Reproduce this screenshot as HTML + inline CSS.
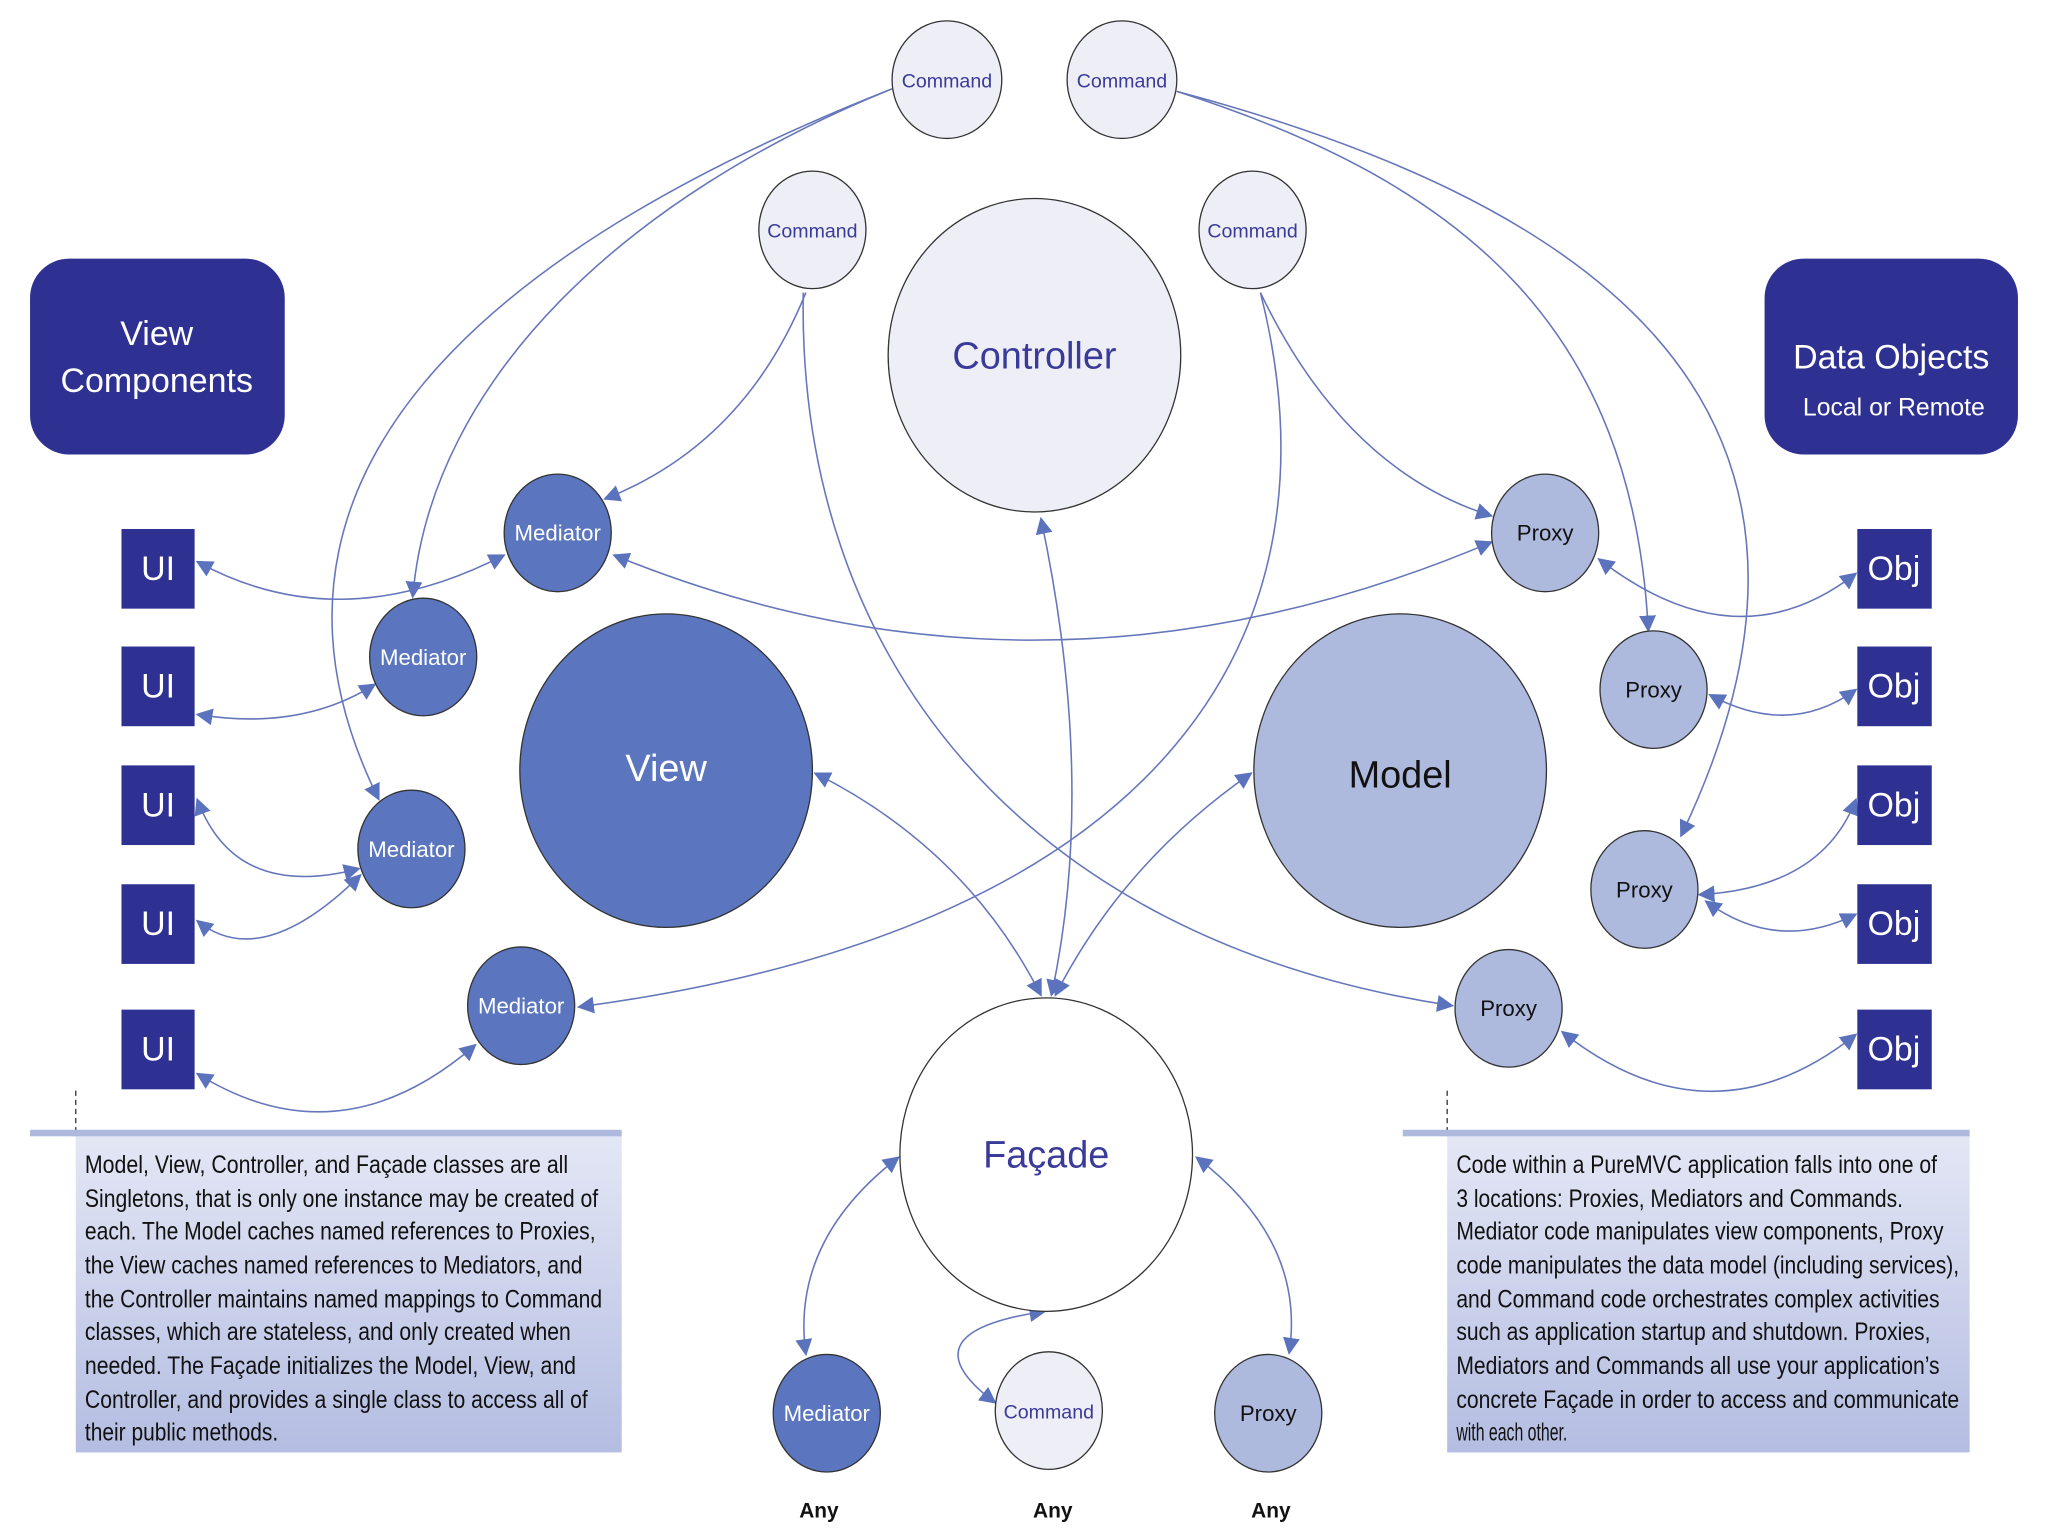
<!DOCTYPE html>
<html><head><meta charset="utf-8"><style>
html,body{margin:0;padding:0;background:#fff;}
svg{display:block;}
text{font-family:"Liberation Sans",sans-serif;}
.cmd{fill:#EEEEF6;stroke:#333;stroke-width:1;}
.med{fill:#5B76BF;stroke:#333;stroke-width:1;}
.prx{fill:#AEB9DE;stroke:#333;stroke-width:1;}
.box{fill:#2E3192;}
.e{fill:none;stroke:#6676BB;stroke-width:1.2;}
.ct{fill:#3A3A9A;font-size:15px;text-anchor:middle;}
.mt{fill:#fff;font-size:17px;text-anchor:middle;}
.pt{fill:#111;font-size:17px;text-anchor:middle;}
.bt{fill:#fff;font-size:26px;text-anchor:middle;}
.tx{fill:#111;font-size:19px;font-family:"Liberation Sans Narrow","Liberation Sans",sans-serif;}
.any{fill:#111;font-size:16px;font-weight:bold;text-anchor:middle;}
</style></head><body>
<svg width="2048" height="1536" viewBox="0 0 1568 1176" xmlns="http://www.w3.org/2000/svg">
<defs>
<marker id="a" viewBox="0 0 10 10" refX="9" refY="5" markerWidth="13" markerHeight="13" markerUnits="userSpaceOnUse" orient="auto-start-reverse"><path d="M0,0 L10,5 L0,10 z" fill="#5B72BD"/></marker>
<linearGradient id="g" x1="0" y1="0" x2="0" y2="1"><stop offset="0" stop-color="#E4E7F5"/><stop offset="1" stop-color="#B4BDE2"/></linearGradient>
</defs>

<!-- edges -->
<path class="e" d="M683,68 C450,160 150,330 290,612" marker-end="url(#a)"/>
<path class="e" d="M683,68 C480,150 330,290 316,457" marker-end="url(#a)"/>
<path class="e" d="M617,224 Q570,340 463,382" marker-end="url(#a)"/>
<path class="e" d="M615,224 C610,500 780,720 1112,770" marker-end="url(#a)"/>
<path class="e" d="M965,224 Q1030,360 1142,395" marker-end="url(#a)"/>
<path class="e" d="M965,224 C1030,480 900,710 443,771" marker-end="url(#a)"/>
<path class="e" d="M901,70 C1120,140 1250,250 1262,483" marker-end="url(#a)"/>
<path class="e" d="M901,70 C1200,150 1450,300 1287,640" marker-end="url(#a)"/>
<path class="e" d="M386,425 Q260,490 151,430" marker-start="url(#a)" marker-end="url(#a)"/>
<path class="e" d="M470,425 Q800,560 1142,415" marker-start="url(#a)" marker-end="url(#a)"/>
<path class="e" d="M287,524 Q230,560 151,547" marker-start="url(#a)" marker-end="url(#a)"/>
<path class="e" d="M275,665 Q180,690 151,612" marker-start="url(#a)" marker-end="url(#a)"/>
<path class="e" d="M151,705 Q200,745 276,670" marker-start="url(#a)" marker-end="url(#a)"/>
<path class="e" d="M151,822 Q260,890 364,800" marker-start="url(#a)" marker-end="url(#a)"/>
<path class="e" d="M1224,428 Q1330,510 1421,439" marker-start="url(#a)" marker-end="url(#a)"/>
<path class="e" d="M1309,532 Q1370,565 1421,528" marker-start="url(#a)" marker-end="url(#a)"/>
<path class="e" d="M1301,685 Q1395,680 1421,612" marker-start="url(#a)" marker-end="url(#a)"/>
<path class="e" d="M1306,690 Q1360,730 1421,700" marker-start="url(#a)" marker-end="url(#a)"/>
<path class="e" d="M1196,790 Q1310,880 1421,792" marker-start="url(#a)" marker-end="url(#a)"/>
<path class="e" d="M797,397 Q840,600 805,762" marker-start="url(#a)" marker-end="url(#a)"/>
<path class="e" d="M624,592 Q740,650 797,762" marker-start="url(#a)" marker-end="url(#a)"/>
<path class="e" d="M958,592 Q860,660 808,762" marker-start="url(#a)" marker-end="url(#a)"/>
<path class="e" d="M688,886 Q605,950 617,1037" marker-start="url(#a)" marker-end="url(#a)"/>
<path class="e" d="M800,1004 Q690,1020 762,1074" marker-start="url(#a)" marker-end="url(#a)"/>
<path class="e" d="M916,886 Q1000,950 987,1036" marker-start="url(#a)" marker-end="url(#a)"/>

<!-- big boxes -->
<rect class="box" x="23" y="198" width="195" height="150" rx="30"/>
<text class="bt" x="120" y="264">View</text>
<text class="bt" x="120" y="300">Components</text>
<rect class="box" x="1351" y="198" width="194" height="150" rx="30"/>
<text class="bt" x="1448" y="282">Data Objects</text>
<text x="1450" y="318" fill="#fff" font-size="19" text-anchor="middle">Local or Remote</text>

<!-- UI / Obj -->
<g>
<rect class="box" x="93" y="405" width="56" height="61"/><text class="bt" x="121" y="444">UI</text>
<rect class="box" x="93" y="495" width="56" height="61"/><text class="bt" x="121" y="534">UI</text>
<rect class="box" x="93" y="586" width="56" height="61"/><text class="bt" x="121" y="625">UI</text>
<rect class="box" x="93" y="677" width="56" height="61"/><text class="bt" x="121" y="716">UI</text>
<rect class="box" x="93" y="773" width="56" height="61"/><text class="bt" x="121" y="812">UI</text>
<rect class="box" x="1422" y="405" width="57" height="61"/><text class="bt" x="1450" y="444">Obj</text>
<rect class="box" x="1422" y="495" width="57" height="61"/><text class="bt" x="1450" y="534">Obj</text>
<rect class="box" x="1422" y="586" width="57" height="61"/><text class="bt" x="1450" y="625">Obj</text>
<rect class="box" x="1422" y="677" width="57" height="61"/><text class="bt" x="1450" y="716">Obj</text>
<rect class="box" x="1422" y="773" width="57" height="61"/><text class="bt" x="1450" y="812">Obj</text>
</g>

<!-- commands -->
<ellipse class="cmd" cx="725" cy="61" rx="42" ry="45"/><text class="ct" x="725" y="67">Command</text>
<ellipse class="cmd" cx="859" cy="61" rx="42" ry="45"/><text class="ct" x="859" y="67">Command</text>
<ellipse class="cmd" cx="622" cy="176" rx="41" ry="45"/><text class="ct" x="622" y="182">Command</text>
<ellipse class="cmd" cx="959" cy="176" rx="41" ry="45"/><text class="ct" x="959" y="182">Command</text>
<ellipse class="cmd" cx="803" cy="1080" rx="41" ry="45"/><text class="ct" x="803" y="1086">Command</text>

<!-- big circles -->
<ellipse cx="792" cy="272" rx="112" ry="120" fill="#EEEEF6" stroke="#333"/>
<text x="792" y="282" fill="#3A3A9A" font-size="29" text-anchor="middle">Controller</text>
<ellipse cx="510" cy="590" rx="112" ry="120" fill="#5B76BF" stroke="#333"/>
<text x="510" y="598" fill="#fff" font-size="29" text-anchor="middle">View</text>
<ellipse cx="1072" cy="590" rx="112" ry="120" fill="#AEB9DE" stroke="#333"/>
<text x="1072" y="603" fill="#111" font-size="29" text-anchor="middle">Model</text>
<ellipse cx="801" cy="884" rx="112" ry="120" fill="#fff" stroke="#333"/>
<text x="801" y="894" fill="#3A3A9A" font-size="29" text-anchor="middle">Façade</text>

<!-- mediators -->
<ellipse class="med" cx="427" cy="408" rx="41" ry="45"/><text class="mt" x="427" y="414">Mediator</text>
<ellipse class="med" cx="324" cy="503" rx="41" ry="45"/><text class="mt" x="324" y="509">Mediator</text>
<ellipse class="med" cx="315" cy="650" rx="41" ry="45"/><text class="mt" x="315" y="656">Mediator</text>
<ellipse class="med" cx="399" cy="770" rx="41" ry="45"/><text class="mt" x="399" y="776">Mediator</text>
<ellipse class="med" cx="633" cy="1082" rx="41" ry="45"/><text class="mt" x="633" y="1088">Mediator</text>

<!-- proxies -->
<ellipse class="prx" cx="1183" cy="408" rx="41" ry="45"/><text class="pt" x="1183" y="414">Proxy</text>
<ellipse class="prx" cx="1266" cy="528" rx="41" ry="45"/><text class="pt" x="1266" y="534">Proxy</text>
<ellipse class="prx" cx="1259" cy="681" rx="41" ry="45"/><text class="pt" x="1259" y="687">Proxy</text>
<ellipse class="prx" cx="1155" cy="772" rx="41" ry="45"/><text class="pt" x="1155" y="778">Proxy</text>
<ellipse class="prx" cx="971" cy="1082" rx="41" ry="45"/><text class="pt" x="971" y="1088">Proxy</text>

<text class="any" x="627" y="1162">Any</text>
<text class="any" x="806" y="1162">Any</text>
<text class="any" x="973" y="1162">Any</text>

<!-- text boxes -->
<line x1="58" y1="835" x2="58" y2="867" stroke="#333" stroke-dasharray="4,3"/>
<rect x="58" y="867" width="418" height="245" fill="url(#g)"/>
<rect x="23" y="865" width="453" height="5" fill="#AEB9DE"/>
<g class="tx">
<text x="65" y="898" textLength="370" lengthAdjust="spacingAndGlyphs">Model, View, Controller, and Façade classes are all</text>
<text x="65" y="924" textLength="393" lengthAdjust="spacingAndGlyphs">Singletons, that is only one instance may be created of</text>
<text x="65" y="949" textLength="391" lengthAdjust="spacingAndGlyphs">each. The Model caches named references to Proxies,</text>
<text x="65" y="975" textLength="381" lengthAdjust="spacingAndGlyphs">the View caches named references to Mediators, and</text>
<text x="65" y="1001" textLength="396" lengthAdjust="spacingAndGlyphs">the Controller maintains named mappings to Command</text>
<text x="65" y="1026" textLength="372" lengthAdjust="spacingAndGlyphs">classes, which are stateless, and only created when</text>
<text x="65" y="1052" textLength="376" lengthAdjust="spacingAndGlyphs">needed. The Façade initializes the Model, View, and</text>
<text x="65" y="1078" textLength="385" lengthAdjust="spacingAndGlyphs">Controller, and provides a single class to access all of</text>
<text x="65" y="1103" textLength="148" lengthAdjust="spacingAndGlyphs">their public methods.</text>
</g>
<line x1="1108" y1="835" x2="1108" y2="867" stroke="#333" stroke-dasharray="4,3"/>
<rect x="1108" y="867" width="400" height="245" fill="url(#g)"/>
<rect x="1074" y="865" width="434" height="5" fill="#AEB9DE"/>
<g class="tx">
<text x="1115" y="898" textLength="368" lengthAdjust="spacingAndGlyphs">Code within a PureMVC application falls into one of</text>
<text x="1115" y="924" textLength="342" lengthAdjust="spacingAndGlyphs">3 locations: Proxies, Mediators and Commands.</text>
<text x="1115" y="949" textLength="373" lengthAdjust="spacingAndGlyphs">Mediator code manipulates view components, Proxy</text>
<text x="1115" y="975" textLength="385" lengthAdjust="spacingAndGlyphs">code manipulates the data model (including services),</text>
<text x="1115" y="1001" textLength="370" lengthAdjust="spacingAndGlyphs">and Command code orchestrates complex activities</text>
<text x="1115" y="1026" textLength="363" lengthAdjust="spacingAndGlyphs">such as application startup and shutdown. Proxies,</text>
<text x="1115" y="1052" textLength="370" lengthAdjust="spacingAndGlyphs">Mediators and Commands all use your application’s</text>
<text x="1115" y="1078" textLength="385" lengthAdjust="spacingAndGlyphs">concrete Façade in order to access and communicate</text>
<text x="1115" y="1103" textLength="85" lengthAdjust="spacingAndGlyphs">with each other.</text>
</g>
</svg>
</body></html>
